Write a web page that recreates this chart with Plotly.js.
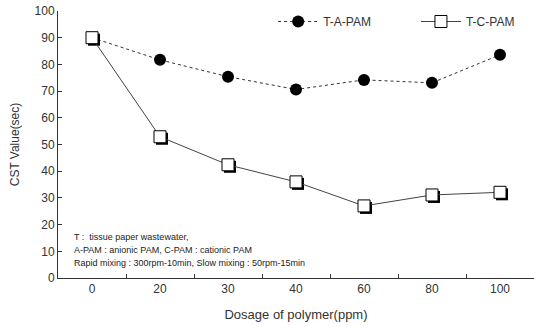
<!DOCTYPE html>
<html><head><meta charset="utf-8">
<script src="https://cdn.plot.ly/plotly-3.0.1.min.js"></script>
<style>html,body{margin:0;padding:0;background:#fff}#chart{width:534px;height:327px}</style>
</head><body><div id="chart"></div>
<script>
const dosage = ['0','20','30','40','60','80','100'];
const tApam = [90, 81.7, 75.4, 70.6, 74.2, 73.1, 83.6];
const tCpam = [90, 52.9, 42.4, 36.0, 27.0, 31.1, 32.1];
const notes = ['T :  tissue paper wastewater,', 'A-PAM : anionic PAM, C-PAM : cationic PAM', 'Rapid mixing : 300rpm-10min, Slow mixing : 50rpm-15min'];

const font = 'Liberation Sans, Arial, sans-serif';
const traces = [
  {x: dosage, y: tApam, name: 'T-A-PAM', legend: 'legend', type: 'scatter', mode: 'lines+markers',
   line: {color: '#333', width: 1, dash: 'dot'},
   marker: {symbol: 'circle', size: 12, color: '#000'}},
  {x: dosage, y: tCpam, xaxis: 'x2', yaxis: 'y2', showlegend: false, hoverinfo: 'skip',
   type: 'scatter', mode: 'markers', marker: {symbol: 'square', size: 12, color: '#000'}},
  {x: dosage, y: tCpam, name: 'T-C-PAM', legend: 'legend2', xaxis: 'x3', yaxis: 'y3', type: 'scatter', mode: 'lines+markers',
   line: {color: '#444', width: 1},
   marker: {symbol: 'square', size: 12, color: '#fff', line: {color: '#000', width: 1}}}
];
const pxPerCat = 68, pxPerUnit = 2.667;
const legendBase = {orientation: 'h', y: 1.015, xanchor: 'left', yanchor: 'top', itemwidth: 40,
  font: {family: font, size: 12, color: '#333'}, bgcolor: 'rgba(0,0,0,0)'};
const layout = {
  width: 534, height: 327,
  margin: {l: 58, r: 0, t: 11, b: 49},
  paper_bgcolor: '#fff', plot_bgcolor: '#fff',
  font: {family: font, size: 12, color: '#333'},
  showlegend: true,
  legend: Object.assign({}, legendBase, {x: 0.452}),
  legend2: Object.assign({}, legendBase, {x: 0.752}),
  xaxis: {type: 'category', categoryarray: dosage, range: [-0.5, 6.5], showline: true, linecolor: '#333', linewidth: 1,
          ticks: 'inside', ticklen: 4, tickcolor: '#333', tickson: 'boundaries', showgrid: false,
          zeroline: false, tickfont: {size: 12, color: '#333'}, automargin: false,
          title: {text: 'Dosage of polymer(ppm)', font: {size: 13, color: '#333'}, standoff: 14}},
  yaxis: {range: [0, 100], dtick: 10, showline: true, linecolor: '#333', linewidth: 1,
          ticks: 'inside', ticklen: 4, tickcolor: '#333', showgrid: false, zeroline: false,
          tickfont: {size: 12, color: '#333'}, automargin: false,
          title: {text: 'CST Value(sec)', font: {size: 12, color: '#333'}, standoff: 12}},
  xaxis2: {type: 'category', categoryarray: dosage, overlaying: 'x', range: [-0.5 - 2/pxPerCat, 6.5 - 2/pxPerCat], visible: false},
  yaxis2: {overlaying: 'y', range: [0 + 2/pxPerUnit, 100 + 2/pxPerUnit], visible: false},
  xaxis3: {type: 'category', categoryarray: dosage, overlaying: 'x', range: [-0.5, 6.5], visible: false},
  yaxis3: {overlaying: 'y', range: [0, 100], visible: false},
  annotations: notes.map((t, i) => ({text: t, xref: 'paper', yref: 'paper', x: 0.03, y: 0.155 - i*0.049,
     xanchor: 'left', yanchor: 'middle', showarrow: false, font: {size: 9, color: '#222'}}))
};
Plotly.newPlot('chart', traces, layout, {displayModeBar: false, staticPlot: true});
</script></body></html>
